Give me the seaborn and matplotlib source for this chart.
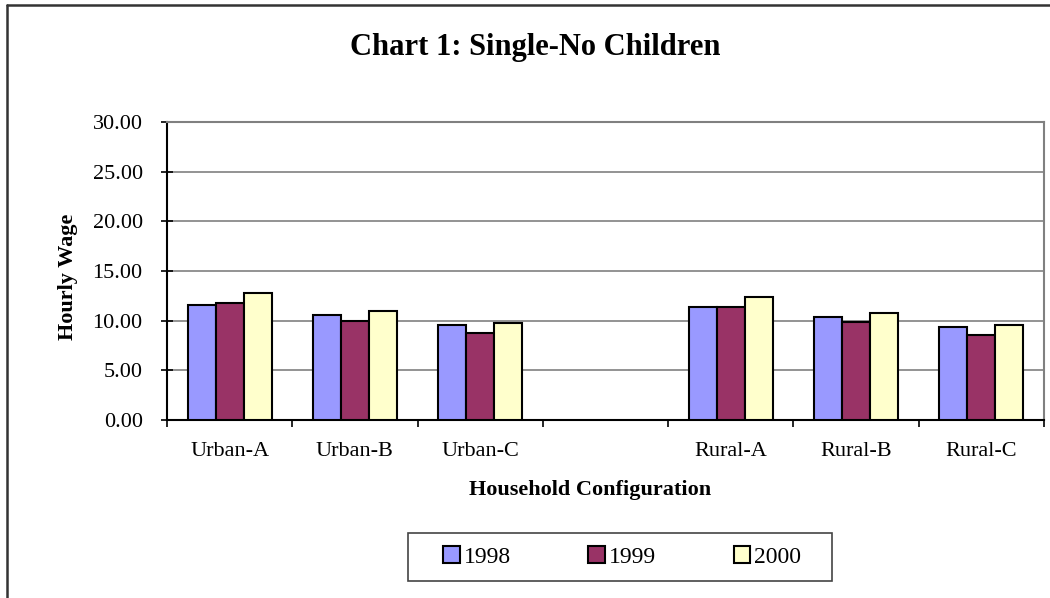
import matplotlib
matplotlib.use("Agg")
import matplotlib.pyplot as plt
import seaborn as sns
import pandas as pd
import numpy as np
from matplotlib.patches import Rectangle
from matplotlib.lines import Line2D

categories = ["Urban-A", "Urban-B", "Urban-C", "", "Rural-A", "Rural-B", "Rural-C"]
years = ["1998", "1999", "2000"]
wage_1998 = [11.6, 10.6, 9.6, None, 11.4, 10.4, 9.4]
wage_1999 = [11.8, 10.0, 8.8, None, 11.4, 9.85, 8.6]
wage_2000 = [12.8, 11.0, 9.8, None, 12.4, 10.8, 9.6]
y_ticks = [0, 5, 10, 15, 20, 25, 30]
colors = ["#9999FF", "#993366", "#FFFFCC"]

rows = []
for yr, vals in zip(years, [wage_1998, wage_1999, wage_2000]):
    for c, v in zip(categories, vals):
        if v is not None:
            rows.append({"cat": c, "year": yr, "wage": v})
df = pd.DataFrame(rows)

sns.set_theme(style="white")
plt.rcParams["font.family"] = ["Liberation Serif", "DejaVu Serif"]
plt.rcParams["text.color"] = "black"
plt.rcParams["axes.labelcolor"] = "black"
plt.rcParams["xtick.color"] = "black"
plt.rcParams["ytick.color"] = "black"

W, H = 1050, 598
fig = plt.figure(figsize=(W / 100, H / 100), dpi=100)
ax = fig.add_axes([167 / W, 1 - 420 / H, (1044 - 167) / W, (420 - 122) / H])

sns.barplot(data=df, x="cat", y="wage", hue="year", order=categories,
            hue_order=years, palette=colors, width=0.67, gap=0,
            edgecolor="black", linewidth=1.5, saturation=1, ax=ax,
            legend=False, zorder=3)

ax.set_ylim(0, 30)
ax.set_xlim(-0.5, len(categories) - 0.5)
ax.set_yticks(y_ticks)
ax.set_yticklabels([f"{t:.2f}" for t in y_ticks], fontsize=16, color="black")
ax.yaxis.grid(True, color="#808080", linewidth=1.2, zorder=0)
ax.set_axisbelow(True)

# category labels at centers, tick marks at boundaries
ax.set_xticks(np.arange(-0.5, len(categories) + 0.5, 1))
ax.set_xticklabels([])
ax.set_xticks(np.arange(len(categories)), minor=True)
ax.set_xticklabels(categories, minor=True, fontsize=16, color="black")
ax.tick_params(axis="x", which="major", direction="out", length=5, width=1.2, color="black", bottom=True)
ax.tick_params(axis="x", which="minor", length=0, pad=16)
ax.tick_params(axis="y", direction="inout", length=9, width=1.2, color="black", left=True, pad=13)
ax.set_xlabel("")
ax.set_ylabel("")

for s in ["left", "bottom"]:
    ax.spines[s].set_color("black")
    ax.spines[s].set_linewidth(1.5)
for s in ["top", "right"]:
    ax.spines[s].set_color("#808080")
    ax.spines[s].set_linewidth(1.5)

fig.text(535 / W, 1 - 47 / H, "Chart 1: Single-No Children", ha="center", va="center",
         fontsize=22, fontweight="bold", color="black")
fig.text(68 / W, 1 - 277 / H, "Hourly Wage", ha="center", va="center", rotation=90,
         fontsize=16, fontweight="bold", color="black")
fig.text(590 / W, 1 - 490 / H, "Household Configuration", ha="center", va="center",
         fontsize=16, fontweight="bold", color="black")

handles = [Rectangle((0, 0), 1, 1, facecolor=c, edgecolor="black", linewidth=1.5) for c in colors]
fig.legend(handles, years, loc="center", bbox_to_anchor=(622 / W, 1 - 557 / H), ncol=3,
           frameon=False, fontsize=17, handlelength=0.7, handleheight=0.7,
           handletextpad=0.15, columnspacing=3.3, labelcolor="black")
fig.add_artist(Rectangle((408 / W, 1 - 581 / H), (832 - 408) / W, 48 / H,
                         transform=fig.transFigure, fill=False, edgecolor="#444444", linewidth=1.2))

# outer chart border (top and left visible)
fig.add_artist(Line2D([7 / W, 1.0], [1 - 5 / H, 1 - 5 / H], transform=fig.transFigure,
                      color="#333333", linewidth=1.8))
fig.add_artist(Line2D([7 / W, 7 / W], [0, 1 - 5 / H], transform=fig.transFigure,
                      color="#333333", linewidth=1.8))

fig.savefig("out.png", dpi=100)
